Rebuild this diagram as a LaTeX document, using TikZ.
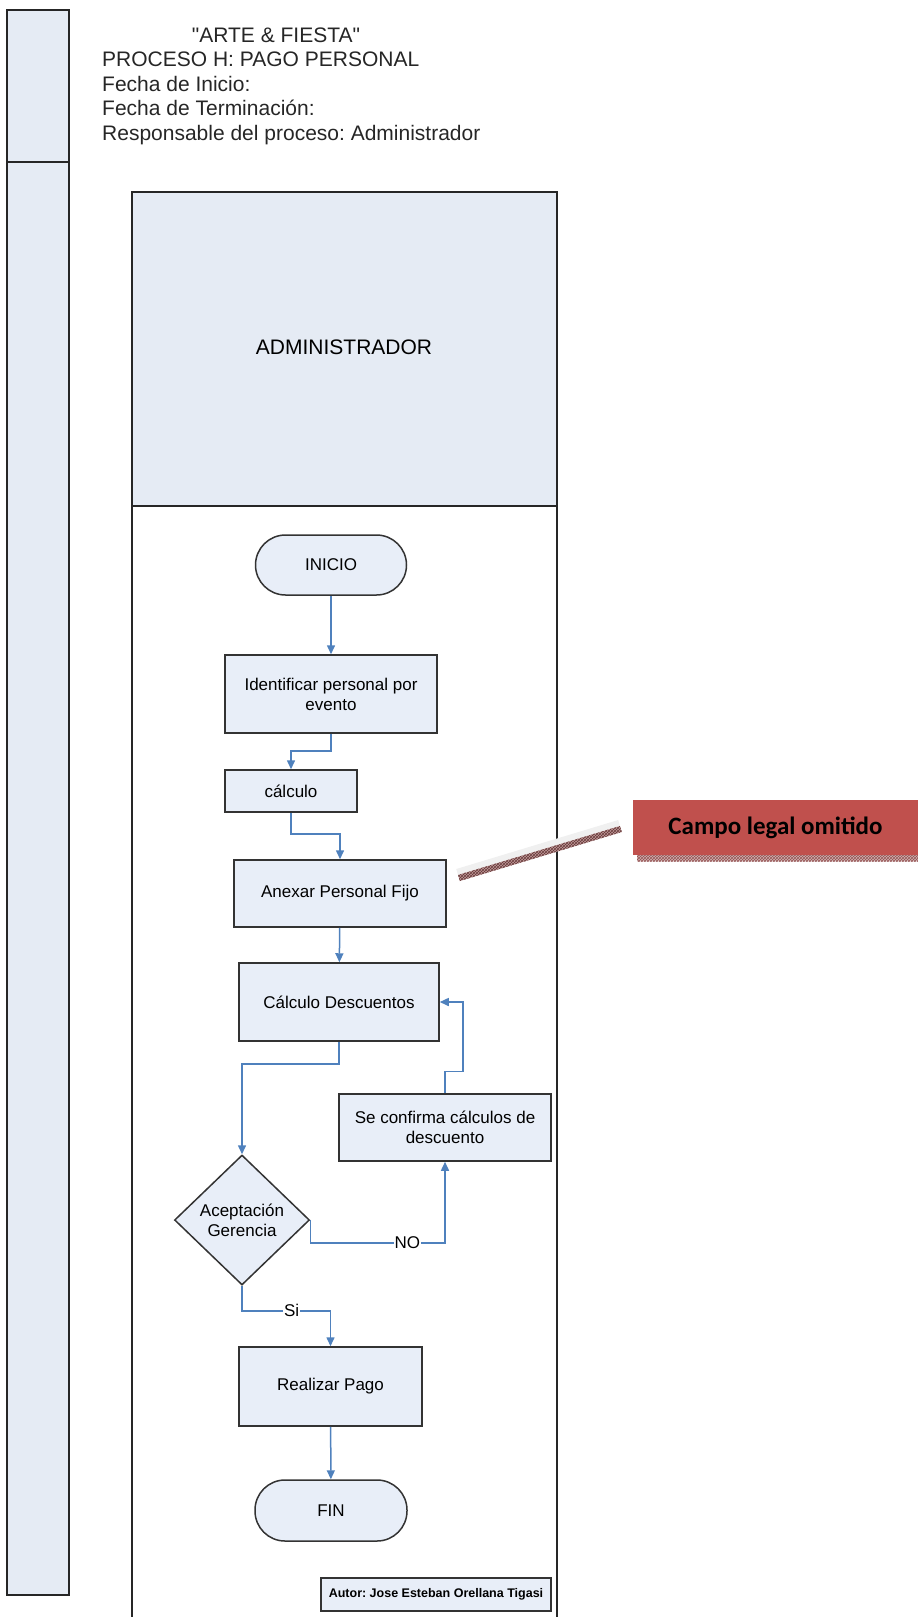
\documentclass[tikz,border=0pt]{standalone}
\usepackage{fontspec}
\setmainfont{Liberation Sans}
\newfontfamily\calibri{Carlito}
\usetikzlibrary{shapes.geometric}
\usetikzlibrary{arrows.meta}
\usetikzlibrary{patterns}
\frenchspacing

\definecolor{carril}{RGB}{229,235,244}
\definecolor{caja}{RGB}{232,238,248}
\definecolor{flecha}{RGB}{79,129,189}
\definecolor{omitido}{RGB}{192,80,77}
\definecolor{sombra}{RGB}{150,85,85}

\begin{document}
\begin{tikzpicture}[x=1pt,y=-1pt,
    proceso/.style={draw=black!80, line width=1.5pt, fill=caja, align=center, inner sep=2pt, font=\fontsize{17}{20}\selectfont},
    terminal/.style={proceso, rounded corners=30pt},
    decision/.style={proceso, diamond, inner sep=0pt},
    flujo/.style={draw=flecha, line width=1.5pt, -{Triangle[length=9pt,width=8pt]}},
    etiqueta/.style={fill=white, inner sep=1pt, font=\fontsize{17}{20}\selectfont}]

    \useasboundingbox (0,0) rectangle (918,1617);

    % franja izquierda
    \filldraw[draw=black!85, line width=2pt, fill=carril] (7,10) rectangle (69,1595);
    \draw[black!85, line width=2pt] (7,162) -- (69,162);

    % datos del proceso
    \node[anchor=base, text=black!85, font=\fontsize{21}{25}\selectfont] (dato1) at (276,42.5) {\textquotedbl ARTE \& FIESTA\textquotedbl};
    \foreach \lin [count=\k from 2] in {PROCESO H: PAGO PERSONAL, Fecha de Inicio:, Fecha de Terminación:, Responsable del proceso: Administrador}
        \node[anchor=base west, inner sep=0pt, text=black!85, font=\fontsize{21}{25}\selectfont] (dato\k) at (102,17.5+24.5*\k) {\lin};

    % carril
    \filldraw[draw=black!85, line width=2pt, fill=carril] (132,192) rectangle (557,506);
    \draw[black!85, line width=2pt] (132,506) -- (132,1617) (557,506) -- (557,1617);
    \node[font=\fontsize{21}{25}\selectfont] (admin) at (344,347) {ADMINISTRADOR};

    % nodos
    \node[terminal, minimum width=151pt, minimum height=60pt] (inicio) at (331,565) {INICIO};
    \node[proceso, minimum width=212pt, minimum height=78pt] (ident) at (331,694) {Identificar personal por\\evento};
    \node[proceso, minimum width=132pt, minimum height=42pt] (calc) at (291,791) {cálculo};
    \node[proceso, minimum width=212pt, minimum height=67pt] (anexar) at (340,893.5) {Anexar Personal Fijo};
    \node[proceso, minimum width=200pt, minimum height=78pt] (desc) at (339,1002) {Cálculo Descuentos};
    \node[proceso, minimum width=212pt, minimum height=67pt] (conf) at (445,1127.5) {Se confirma cálculos de\\descuento};
    \node[decision, minimum width=135pt, minimum height=130pt] (dec) at (242,1220) {Aceptación\\Gerencia};
    \node[proceso, minimum width=183pt, minimum height=79pt] (pago) at (330.5,1386.5) {Realizar Pago};
    \node[terminal, minimum width=152pt, minimum height=61pt] (fin) at (331,1510.5) {FIN};
    \node[proceso, minimum width=230pt, minimum height=33pt, font=\bfseries\fontsize{12.5}{14}\selectfont] (autor) at (436,1594.5) {Autor: Jose Esteban Orellana Tigasi};

    % conectores
    \draw[flujo] (inicio) -- (ident);
    \draw[flujo] (ident.south) -- ++(0,17) -| (calc.north);
    \draw[flujo] (calc.south) -- ++(0,21) -| (anexar.north);
    \draw[flujo] (anexar) -- (desc);
    \draw[flujo] (desc.south) -- ++(0,22) -| (dec.north);
    \draw[flujo] (dec.east) -- ++(0,23) -| node[etiqueta, pos=0.36] {NO} (conf.south);
    \draw[flujo] (conf.north) -- ++(0,-22) -- ++(18,0) |- (desc.east);
    \draw[flujo] (dec.south) -- ++(0,25) -| node[etiqueta, pos=0.28] {Si} (pago.north);
    \draw[flujo] (pago) -- (fin);

    % campo omitido
    \node[fill=omitido, minimum width=285pt, minimum height=55pt, font=\calibri\bfseries\fontsize{25}{30}\selectfont] (campo) at (775.5,827.5) {Campo legal omitido};
    \fill[sombra!45] (637,855) rectangle (918,861);
    \pattern[pattern=crosshatch, pattern color=sombra] (637,855) rectangle (918,861);
    \fill[gray!12] (458,875) -- (620,826) -- (618.2,820) -- (456.2,869) -- cycle;
    \fill[sombra!60] (458,875) -- (620,826) -- (621.8,832) -- (459.8,881) -- cycle;
    \pattern[pattern=crosshatch, pattern color=sombra!70!black] (458,875) -- (620,826) -- (621.8,832) -- (459.8,881) -- cycle;

\end{tikzpicture}
\end{document}
